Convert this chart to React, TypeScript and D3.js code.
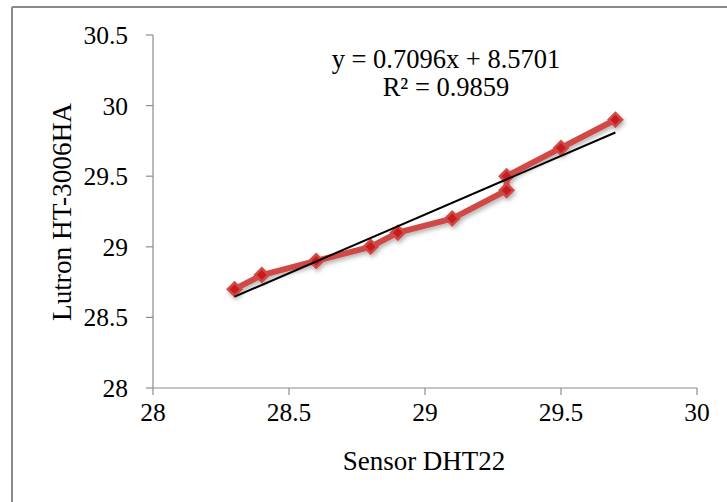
import React from "react";
import * as d3 from "d3";

const sensorDHT22 = [28.3, 28.4, 28.6, 28.8, 28.9, 29.1, 29.3, 29.3, 29.5, 29.7];
const lutron = [28.7, 28.8, 28.9, 29.0, 29.1, 29.2, 29.4, 29.5, 29.7, 29.9];
const xTicks = [28, 28.5, 29, 29.5, 30];
const yTicks = [28, 28.5, 29, 29.5, 30, 30.5];
const eqLine1 = "y = 0.7096x + 8.5701";
const eqLine2 = "R² = 0.9859";
const xTitle = "Sensor DHT22";
const yTitle = "Lutron HT-3006HA";

const W = 727;
const H = 502;
const FONT = "'Liberation Serif', 'Times New Roman', serif";

export default function App() {
  const x = d3.scaleLinear().domain([28, 30]).range([153, 697]);
  const y = d3.scaleLinear().domain([28, 30.5]).range([388, 35]);
  const pts = sensorDHT22.map((v, i) => [v, lutron[i]] as [number, number]);
  const line = d3
    .line<[number, number]>()
    .x((d) => x(d[0]))
    .y((d) => y(d[1]));

  // least-squares linear trendline through the data
  const mx = d3.mean(sensorDHT22) as number;
  const my = d3.mean(lutron) as number;
  const sxy = d3.sum(sensorDHT22, (v, i) => (v - mx) * (lutron[i] - my));
  const sxx = d3.sum(sensorDHT22, (v) => (v - mx) * (v - mx));
  const slope = sxy / sxx;
  const intercept = my - slope * mx;
  const xMin = d3.min(sensorDHT22) as number;
  const xMax = d3.max(sensorDHT22) as number;
  const trend: [number, number][] = [
    [xMin, slope * xMin + intercept],
    [xMax, slope * xMax + intercept],
  ];

  const marker = d3.symbol(d3.symbolSquare, 90)() as string;
  const axisColor = "#8c8c8c";

  return (
    <svg
      width={W}
      height={H}
      style={{ position: "absolute", left: 0, top: 0, background: "#fff" }}
      fontFamily={FONT}
    >
      <defs>
        <filter id="shadow" x="-10%" y="-10%" width="130%" height="130%">
          <feGaussianBlur in="SourceGraphic" stdDeviation="0.6" result="soft" />
          <feDropShadow in="soft" dx="1.5" dy="2.5" stdDeviation="2" floodColor="#000" floodOpacity="0.3" />
        </filter>
      </defs>
      {/* outer frame */}
      <line x1={12} y1={7} x2={W + 5} y2={7} stroke="#8a8a8a" strokeWidth={2} />
      <line x1={12} y1={7} x2={12} y2={H + 5} stroke="#8a8a8a" strokeWidth={2} />

      {/* axes */}
      <line x1={x(28)} y1={y(30.5)} x2={x(28)} y2={y(28)} stroke={axisColor} strokeWidth={1.2} />
      <line x1={x(28)} y1={y(28)} x2={x(30)} y2={y(28)} stroke={axisColor} strokeWidth={1.2} />
      {yTicks.map((t) => (
        <g key={"y" + t}>
          <line x1={x(28) - 7} x2={x(28)} y1={y(t)} y2={y(t)} stroke={axisColor} strokeWidth={1.2} />
          <text x={128} y={y(t)} dy="0.35em" textAnchor="end" fontSize={25.5} fill="#000">
            {t}
          </text>
        </g>
      ))}
      {xTicks.map((t) => (
        <g key={"x" + t}>
          <line x1={x(t)} x2={x(t)} y1={y(28)} y2={y(28) + 7} stroke={axisColor} strokeWidth={1.2} />
          <text x={x(t)} y={421} textAnchor="middle" fontSize={25.5} fill="#000">
            {t}
          </text>
        </g>
      ))}
      <text x={424} y={470} textAnchor="middle" fontSize={27} fill="#000">
        {xTitle}
      </text>
      <text
        transform={`translate(71,212) rotate(-90)`}
        textAnchor="middle"
        fontSize={27.3}
        fill="#000"
      >
        {yTitle}
      </text>

      {/* data line */}
      <g filter="url(#shadow)">
        <path d={line(pts) as string} fill="none" stroke="#cf4a47" strokeWidth={6} strokeLinejoin="round" />
        {pts.map((p, i) => (
          <path
            key={i}
            d={marker}
            transform={`translate(${x(p[0])},${y(p[1])}) rotate(45)`}
            fill="#c81e1e"
            stroke="#d04a48"
            strokeWidth={2.5}
          />
        ))}
      </g>
      {/* trend line */}
      <path d={line(trend) as string} fill="none" stroke="#000" strokeWidth={2} />

      {/* equation */}
      <text x={446} y={68} textAnchor="middle" fontSize={26.5} fill="#000">
        {eqLine1}
      </text>
      <text x={446} y={96} textAnchor="middle" fontSize={26.5} fill="#000">
        {eqLine2}
      </text>
    </svg>
  );
}
